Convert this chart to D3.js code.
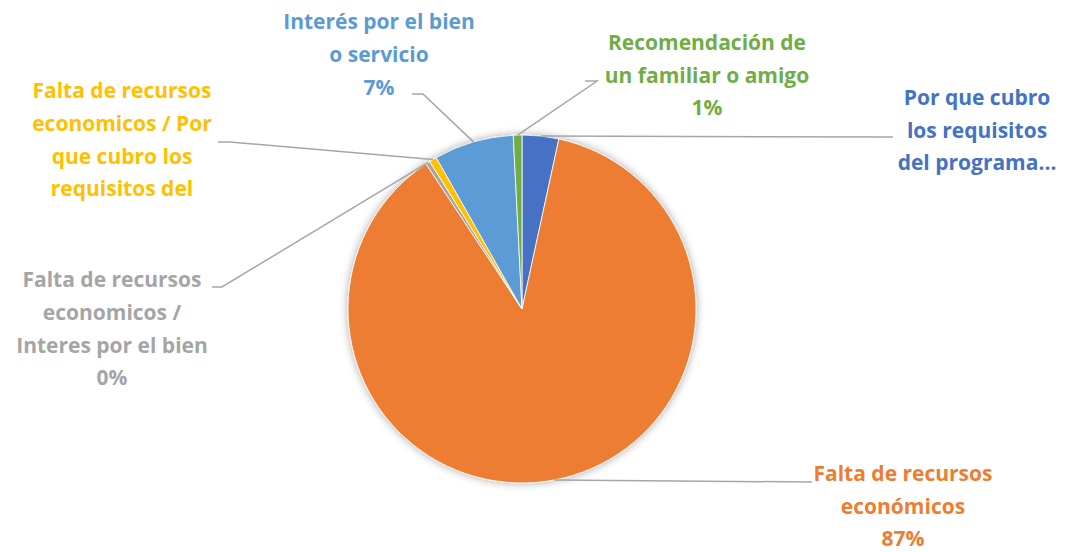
<!DOCTYPE html>
<html>
<head>
<meta charset="utf-8">
<script src="https://cdn.jsdelivr.net/npm/d3@7"></script>
<style>
  html, body { margin: 0; padding: 0; background: #fff; }
  svg { display: block; }
  text { font-family: "Open Sans", Lato, sans-serif; font-weight: 700; }
</style>
</head>
<body>
<svg id="chart" width="1074" height="552"></svg>
<script>
// ---- data ----
const categories = [
  "Por que cubro los requisitos del programa",
  "Falta de recursos económicos",
  "Falta de recursos economicos / Interes por el bien",
  "Falta de recursos economicos / Por que cubro los requisitos del programa",
  "Interés por el bien o servicio",
  "Recomendación de un familiar o amigo"
];
const values = [3.4, 87.3, 0.4, 0.7, 7.4, 0.8];
const labelLines = [
  ["Por que cubro", "los requisitos", "del programa…"],
  ["Falta de recursos", "económicos", "87%"],
  ["Falta de recursos", "economicos /", "Interes por el bien", "0%"],
  ["Falta de recursos", "economicos / Por", "que cubro los", "requisitos del"],
  ["Interés por el bien", "o servicio", "7%"],
  ["Recomendación de", "un familiar o amigo", "1%"]
];
const colors = ["#4472C4", "#ED7D31", "#A5A5A5", "#FFC000", "#5B9BD5", "#70AD47"];

// ---- layout (positions of labels, not data) ----
const cx = 522, cy = 309, R = 174;
const labelLayout = [
  { x: 977, y: 98,  lh: 32.5, lineEnd: [893, 137], elbow: null },
  { x: 903, y: 474, lh: 32.5, lineEnd: [812, 482], elbow: null },
  { x: 112, y: 280, lh: 32.7, lineEnd: [212, 287], elbow: [222, 287] },
  { x: 122, y: 91,  lh: 32.7, lineEnd: [218, 142], elbow: [230, 142] },
  { x: 379, y: 22,  lh: 33,   lineEnd: [412, 94],  elbow: [423, 94] },
  { x: 707, y: 43,  lh: 32.5, lineEnd: [585, 81],  elbow: [597, 81] }
];

const svg = d3.select("#chart");
const defs = svg.append("defs");
const f = defs.append("filter").attr("id", "shadow")
  .attr("x", "-20%").attr("y", "-20%").attr("width", "140%").attr("height", "140%");
f.append("feDropShadow").attr("dx", 0).attr("dy", 0).attr("stdDeviation", 4)
  .attr("flood-color", "#000").attr("flood-opacity", 0.35);

const pie = d3.pie().sort(null).value(d => d)(values);
const arc = d3.arc().innerRadius(0).outerRadius(R);

const g = svg.append("g").attr("transform", `translate(${cx},${cy})`);
g.append("g").attr("filter", "url(#shadow)")
  .selectAll("path").data(pie).join("path")
  .attr("d", arc)
  .attr("fill", (d, i) => colors[i])
  .attr("stroke", "#fff").attr("stroke-width", 0.8);

// leader lines
const lines = svg.append("g");
pie.forEach((d, i) => {
  const a = (d.startAngle + d.endAngle) / 2;
  const px = cx + R * Math.sin(a), py = cy - R * Math.cos(a);
  const L = labelLayout[i];
  const pts = [[px, py]];
  if (L.elbow) pts.push(L.elbow);
  pts.push(L.lineEnd);
  lines.append("path")
    .attr("d", d3.line()(pts))
    .attr("fill", "none").attr("stroke", "#A6A6A6").attr("stroke-width", 1.5);
});

// labels
labelLines.forEach((ls, i) => {
  const L = labelLayout[i];
  const t = svg.append("text")
    .attr("text-anchor", "middle")
    .attr("fill", colors[i])
    .attr("font-size", 21);
  ls.forEach((s, j) => {
    t.append("tspan").attr("x", L.x).attr("y", L.y + j * L.lh).attr("dy", "0.35em").text(s);
  });
});
</script>
</body>
</html>
